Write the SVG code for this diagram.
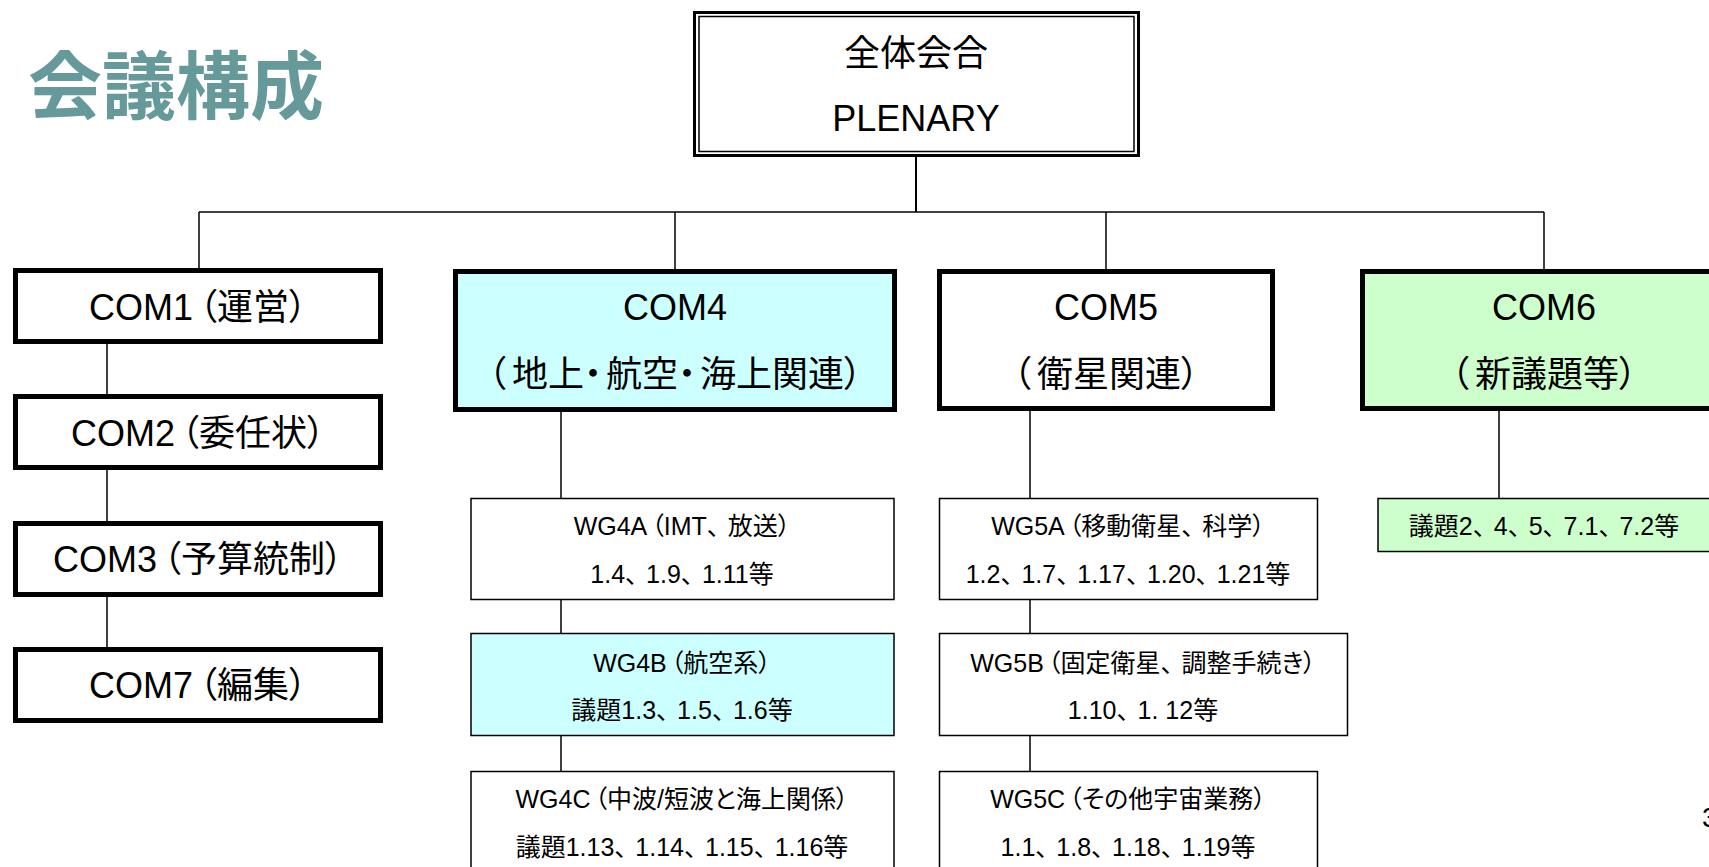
<svg xmlns="http://www.w3.org/2000/svg" width="1709" height="867" viewBox="0 0 1709 867">
<style>
  text { font-family: "Liberation Sans", "Noto Sans CJK JP", sans-serif; fill: #000; font-feature-settings: "palt"; }
  .title { font-family: "Noto Sans CJK JP", sans-serif; font-weight: bold; font-size: 74px; fill: #669999; }
  .big { font-size: 36px; text-anchor: middle; }
  .small { font-size: 25px; text-anchor: middle; }
  .lp { letter-spacing: 6px; }
  .dot { letter-spacing: 4px; }
  .cm { font-feature-settings: normal; letter-spacing: -4px; }
  .com { fill: #fff; stroke: #000; stroke-width: 5; }
  .wg { fill: #fff; stroke: #000; stroke-width: 1.5; }
  .cyan { fill: #ccffff; }
  .green { fill: #ccffcc; }
  .conn line { stroke: #000; stroke-width: 1.5; }
</style>
<rect width="1709" height="867" fill="#fff"/>
<text class="title" x="28" y="113">会議構成</text>

<g id="connectors" class="conn">
  <line x1="916" y1="157" x2="916" y2="212" style="stroke-width:2"/>
  <line x1="199" y1="212" x2="1544" y2="212"/>
  <line x1="199" y1="212" x2="199" y2="269"/>
  <line x1="675" y1="212" x2="675" y2="270"/>
  <line x1="1106" y1="212" x2="1106" y2="270"/>
  <line x1="1544" y1="212" x2="1544" y2="270"/>
  <line x1="107" y1="344" x2="107" y2="394"/>
  <line x1="107" y1="470" x2="107" y2="521"/>
  <line x1="107" y1="597" x2="107" y2="647"/>
  <line x1="561" y1="412" x2="561" y2="498"/>
  <line x1="561" y1="600" x2="561" y2="633"/>
  <line x1="561" y1="736" x2="561" y2="771"/>
  <line x1="1030" y1="411" x2="1030" y2="498"/>
  <line x1="1030" y1="600" x2="1030" y2="634"/>
  <line x1="1030" y1="736" x2="1030" y2="771"/>
  <line x1="1499" y1="411" x2="1499" y2="498"/>
</g>

<g id="plenary">
  <rect x="694.5" y="12.5" width="444" height="143" fill="#fff" stroke="#000" stroke-width="3"/>
  <rect x="699" y="16.5" width="435" height="135" fill="none" stroke="#000" stroke-width="1.5"/>
  <text class="big" x="916" y="66">全体会合</text>
  <text class="big" x="916" y="131">PLENARY</text>
</g>

<g id="com1">
  <rect class="com" x="15.5" y="270.5" width="365" height="71"/>
  <text class="big" x="198" y="320">COM1<tspan dx="6">（</tspan>運営）</text>
</g>
<g id="com2">
  <rect class="com" x="15.5" y="396.5" width="365" height="71"/>
  <text class="big" x="198" y="446">COM2<tspan dx="6">（</tspan>委任状）</text>
</g>
<g id="com3">
  <rect class="com" x="15.5" y="523.5" width="365" height="71"/>
  <text class="big" x="198" y="572">COM3<tspan dx="6">（</tspan>予算統制）</text>
</g>
<g id="com7">
  <rect class="com" x="15.5" y="649.5" width="365" height="71"/>
  <text class="big" x="198" y="698">COM7<tspan dx="6">（</tspan>編集）</text>
</g>

<g id="com4">
  <rect class="com cyan" x="455.5" y="271.5" width="439" height="138"/>
  <text class="big" x="675" y="320">COM4</text>
  <text class="big" x="675" y="387"><tspan class="lp">（</tspan>地上<tspan class="dot">・</tspan>航空<tspan class="dot">・</tspan>海上関連）</text>
</g>
<g id="com5">
  <rect class="com" x="939.5" y="271.5" width="333" height="137"/>
  <text class="big" x="1106" y="320">COM5</text>
  <text class="big" x="1106" y="387"><tspan class="lp">（</tspan>衛星関連）</text>
</g>
<g id="com6">
  <rect class="com green" x="1362.5" y="271.5" width="400" height="137"/>
  <text class="big" x="1544" y="320">COM6</text>
  <text class="big" x="1544" y="387"><tspan class="lp">（</tspan>新議題等）</text>
</g>

<g id="wg4a">
  <rect class="wg" x="471" y="498.5" width="423" height="101"/>
  <text class="small" x="682" y="535">WG4A<tspan dx="4">（</tspan>IMT<tspan class="cm">、</tspan>放送）</text>
  <text class="small" x="682" y="583">1.4<tspan class="cm">、</tspan>1.9<tspan class="cm">、</tspan>1.11等</text>
</g>
<g id="wg4b">
  <rect class="wg cyan" x="471" y="633.5" width="423" height="102"/>
  <text class="small" x="682" y="672">WG4B<tspan dx="4">（</tspan>航空系）</text>
  <text class="small" x="682" y="719">議題1.3<tspan class="cm">、</tspan>1.5<tspan class="cm">、</tspan>1.6等</text>
</g>
<g id="wg4c">
  <rect class="wg" x="471" y="771.5" width="423" height="120"/>
  <text class="small" x="682" y="808">WG4C<tspan dx="4">（</tspan>中波/短波と海上関係）</text>
  <text class="small" x="682" y="856">議題1.13<tspan class="cm">、</tspan>1.14<tspan class="cm">、</tspan>1.15<tspan class="cm">、</tspan>1.16等</text>
</g>
<g id="wg5a">
  <rect class="wg" x="939.5" y="498.5" width="378" height="101"/>
  <text class="small" x="1128" y="535">WG5A<tspan dx="4">（</tspan>移動衛星<tspan class="cm">、</tspan>科学）</text>
  <text class="small" x="1128" y="583">1.2<tspan class="cm">、</tspan>1.7<tspan class="cm">、</tspan>1.17<tspan class="cm">、</tspan>1.20<tspan class="cm">、</tspan>1.21等</text>
</g>
<g id="wg5b">
  <rect class="wg" x="939.5" y="633.5" width="408" height="102"/>
  <text class="small" x="1143" y="672">WG5B<tspan dx="4">（</tspan>固定衛星<tspan class="cm">、</tspan>調整手続き）</text>
  <text class="small" x="1143" y="719">1.10<tspan class="cm">、</tspan>1. 12等</text>
</g>
<g id="wg5c">
  <rect class="wg" x="939.5" y="771.5" width="378" height="120"/>
  <text class="small" x="1128" y="808">WG5C<tspan dx="4">（</tspan>その他宇宙業務）</text>
  <text class="small" x="1128" y="856">1.1<tspan class="cm">、</tspan>1.8<tspan class="cm">、</tspan>1.18<tspan class="cm">、</tspan>1.19等</text>
</g>
<g id="com6-items">
  <rect class="wg green" x="1378" y="498.5" width="360" height="53"/>
  <text class="small" x="1544" y="535">議題2<tspan class="cm">、</tspan>4<tspan class="cm">、</tspan>5<tspan class="cm">、</tspan>7.1<tspan class="cm">、</tspan>7.2等</text>
</g>

<text x="1702" y="827" style="font-size:28px">3</text>
</svg>
